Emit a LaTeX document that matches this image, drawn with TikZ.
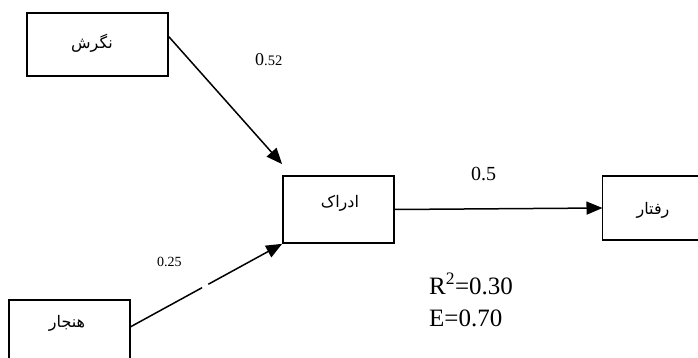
\documentclass[tikz,border=0pt]{standalone}
\usepackage{fontspec}
\setmainfont{Liberation Serif}
\newfontfamily\arabicfont[Script=Arabic]{DejaVu Sans}
\TeXXeTstate=1
\usetikzlibrary{arrows.meta,calc}
\begin{document}
\begin{tikzpicture}[x=1pt,y=-1pt,
  box/.style={draw,line width=1.7pt,inner sep=0pt},
  openbox/.style={inner sep=0pt},
  edge/.style={line width=1.7pt},
  fa/.style={inner sep=0pt,font=\arabicfont\fontsize{16}{16}\selectfont},
  num/.style={inner sep=0pt,anchor=base west},
  conn/.style={line width=1.5pt,-{Triangle[length=16pt,width=13pt]}}]
\useasboundingbox (0,0) rectangle (698,358);
\clip (0,0) rectangle (698,358);
\fill[white] (0,0) rectangle (698,358);
% boxes
\node[box,minimum width=141,minimum height=63] (a) at (97.5,44.5) {};
\node[box,minimum width=111,minimum height=67] (c) at (338.5,209.5) {};
\node[openbox,minimum width=110,minimum height=64,anchor=west] (d) at (602.5,208) {};
\draw[edge] (d.north east) -- (d.north west) -- (d.south west) -- (d.south east);
\node[openbox,minimum width=121,minimum height=70,anchor=north] (e) at (69.5,300) {};
\draw[edge] (e.south west) -- (e.north west) -- (e.north east) -- (e.south east);
% box texts
\node[fa] (ta) at (92,43) {\beginR نگرش\endR};
\node[fa] (tc) at (340,203) {\beginR ادراک\endR};
\node[fa] (td) at (653,210) {\beginR رفتار\endR};
\node[fa] (te) at (67,323) {\beginR هنجار\endR};
% connectors
\coordinate (a1) at ($(a.north east)!0.38!(a.south east)$);
\coordinate (c1) at ($(c.north west)+(0,-11)$);
\draw[conn] (a1) -- (c1);
\draw[conn] (c.east) -- (d.west);
\coordinate (e1) at ($(e.north east)+(0,27)$);
\draw[conn,dash pattern=on 82pt off 7pt on 300pt] (e1) -- (c.south west);
% labels
\node[num] (l1) at (255,66) {\fontsize{18}{18}\selectfont 0\fontsize{14.5}{14.5}\selectfont.52};
\node[num] (l2) at (157,266) {\fontsize{14}{14}\selectfont 0.25};
\node[num] (l3) at (471,180) {\fontsize{20}{20}\selectfont 0.5};
\node[num] (l4) at (429,294) {\fontsize{25}{25}\selectfont R\textsuperscript{2}=0.30};
\node[num] (l5) at (429,326) {\fontsize{25}{25}\selectfont E=0.70};
\end{tikzpicture}
\end{document}
